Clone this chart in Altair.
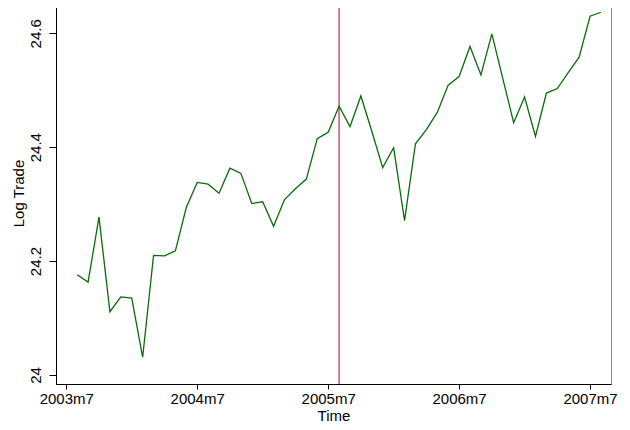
import altair as alt
import pandas as pd

# Monthly log trade, 2003m8 .. 2007m8
start_year, start_month = 2003, 8
log_trade = [
    24.176, 24.163, 24.277, 24.111, 24.137, 24.135, 24.031, 24.210, 24.209, 24.218,
    24.294, 24.338, 24.335, 24.319, 24.363, 24.354, 24.301, 24.304, 24.261, 24.308,
    24.327, 24.344, 24.415, 24.426, 24.472, 24.436, 24.490, 24.428, 24.364, 24.399,
    24.271, 24.406, 24.431, 24.461, 24.509, 24.524, 24.577, 24.527, 24.599, 24.521,
    24.443, 24.488, 24.419, 24.495, 24.503, 24.531, 24.558, 24.630, 24.637,
]
event_month = "2005m8"
tick_labels = ["2003m7", "2004m7", "2005m7", "2006m7", "2007m7"]
y_ticks = [24.0, 24.2, 24.4, 24.6]


def to_index(label):
    y, m = label.split("m")
    return (int(y) - 1960) * 12 + int(m) - 1


start_idx = (start_year - 1960) * 12 + start_month - 1
months = [start_idx + i for i in range(len(log_trade))]
df = pd.DataFrame({"t": months, "v": log_trade})
ev = pd.DataFrame({"t": [to_index(event_month)]})
tick_vals = [to_index(s) for s in tick_labels]

font = "Liberation Sans"

xscale = alt.Scale(domain=[521.06, 571.92], nice=False, zero=False)
yscale = alt.Scale(domain=[23.984, 24.655], nice=False, zero=False)

xaxis = alt.Axis(
    values=tick_vals,
    labelExpr="floor(datum.value/12)+1960 + 'm' + (datum.value%12+1)",
    title="Time",
    grid=False,
    tickSize=5,
    labelPadding=2,
    titlePadding=2,
    domainColor="black",
    tickColor="black",
)
yaxis = alt.Axis(
    values=y_ticks,
    format=".1~f",
    title="Log Trade",
    grid=False,
    tickSize=7,
    labelAngle=270,
    labelAlign="center",
    labelBaseline="bottom",
    labelPadding=6,
    titlePadding=2,
    domainColor="black",
    tickColor="black",
)

line = alt.Chart(df).mark_line(color="#0a6b0a", strokeWidth=1.3).encode(
    x=alt.X("t:Q", scale=xscale, axis=xaxis),
    y=alt.Y("v:Q", scale=yscale, axis=yaxis),
)
rule = alt.Chart(ev).mark_rule(color="#c8365f", strokeWidth=1.3).encode(
    x=alt.X("t:Q", scale=xscale),
)

chart = (
    alt.layer(rule, line)
    .properties(
        width=555,
        height=382,
        autosize=alt.AutoSizeParams(type="none"),
        padding={"left": 48, "top": -6, "right": 10, "bottom": 40},
    )
    .configure_view(stroke="#888888", strokeWidth=1)
    .configure_axis(
        labelFont=font,
        titleFont=font,
        labelFontSize=15,
        titleFontSize=15,
        titleFontWeight="normal",
        labelColor="black",
        titleColor="black",
    )
)

chart.save("out.html", embed_options={"renderer": "svg", "actions": False})
